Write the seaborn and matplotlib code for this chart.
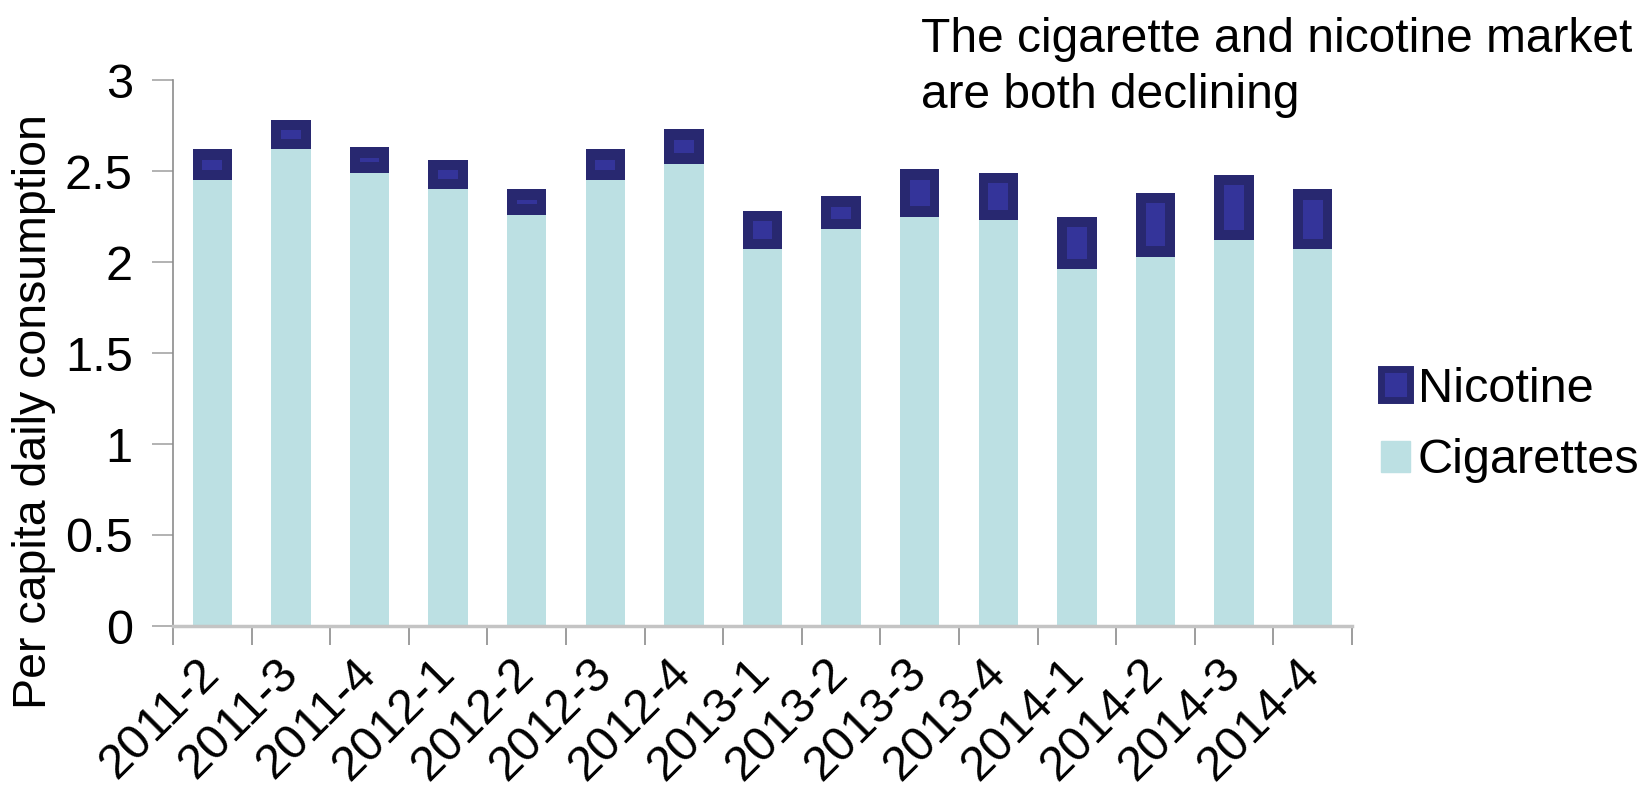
import pandas as pd
import matplotlib.pyplot as plt
import seaborn as sns
from matplotlib.patches import Patch

# Quarterly per capita daily consumption
quarters = ["2011-2", "2011-3", "2011-4", "2012-1", "2012-2", "2012-3", "2012-4",
            "2013-1", "2013-2", "2013-3", "2013-4", "2014-1", "2014-2", "2014-3", "2014-4"]
cigarettes = [2.45, 2.62, 2.49, 2.40, 2.26, 2.45, 2.54, 2.07, 2.18, 2.25, 2.23, 1.96, 2.03, 2.12, 2.07]
nicotine = [0.17, 0.16, 0.14, 0.16, 0.14, 0.17, 0.19, 0.21, 0.18, 0.26, 0.26, 0.29, 0.35, 0.36, 0.33]

data = pd.DataFrame({"Quarter": quarters, "Cigarettes": cigarettes, "Nicotine": nicotine})
data["Total"] = data["Cigarettes"] + data["Nicotine"]

# bevel look of the nicotine boxes: dark frame with a lighter core
inset = 0.057
data["CoreTop"] = data["Total"] - inset
data["CoreBottom"] = data["Cigarettes"] + inset

cig_color = "#bce0e3"
nic_dark = "#282870"
nic_core = "#34349a"

sns.set_style("white")
plt.rcParams["font.family"] = ["Liberation Sans", "DejaVu Sans"]
plt.rcParams["text.color"] = "black"
plt.rcParams["xtick.color"] = "black"
plt.rcParams["ytick.color"] = "black"

fig = plt.figure(figsize=(16.41, 7.91), dpi=100)
ax = fig.add_axes([173 / 1641, 1 - 626 / 791, (1352 - 173) / 1641, (626 - 80) / 791])

common = dict(x="Quarter", order=quarters, saturation=1, errorbar=None,
              linewidth=0, edgecolor="none", ax=ax)
sns.barplot(data=data, y="Total", color=nic_dark, width=0.5, **common)
sns.barplot(data=data, y="CoreTop", color=nic_core, width=0.25, **common)
sns.barplot(data=data, y="CoreBottom", color=nic_dark, width=0.5, **common)
sns.barplot(data=data, y="Cigarettes", color=cig_color, width=0.5, **common)

ax.set_ylim(0, 3)
ax.set_xlim(-0.5, len(quarters) - 0.5)
ax.set_yticks([0, 0.5, 1, 1.5, 2, 2.5, 3])
ax.set_yticklabels(["0", "0.5", "1", "1.5", "2", "2.5", "3"])
ax.set_xlabel("")
ax.set_ylabel("")

ax.set_xticks(range(len(quarters)))
ax.set_xticklabels(quarters, rotation=45, ha="right", va="center", rotation_mode="anchor")
ax.set_xticks([i - 0.5 for i in range(len(quarters) + 1)], minor=True)
ax.tick_params(axis="x", which="major", bottom=True, length=0, pad=29, labelsize=35)
ax.tick_params(axis="x", which="minor", bottom=True, length=14, width=1.2, color="#8c8c8c")
ax.tick_params(axis="y", left=True, length=15, width=1.2, color="#a6a6a6", pad=14,
               labelsize=35, labelcolor="black")

for side in ["top", "right"]:
    ax.spines[side].set_visible(False)
ax.spines["left"].set_color("#8c8c8c")
ax.spines["left"].set_linewidth(1.2)
ax.spines["bottom"].set_color("#c4c4c4")
ax.spines["bottom"].set_linewidth(2.5)

fig.text(34 / 1641, 1 - 412 / 791, "Per capita daily consumption",
         rotation=90, ha="center", va="center", fontsize=33.5)

fig.text(921 / 1641, 1 - 17 / 791, "The cigarette and nicotine market\nare both declining",
         ha="left", va="top", fontsize=34.5, linespacing=1.3)

handles = [Patch(facecolor=nic_core, edgecolor=nic_dark, linewidth=5, label="Nicotine"),
           Patch(facecolor=cig_color, edgecolor=cig_color, label="Cigarettes")]
fig.legend(handles=handles, loc="center left", bbox_to_anchor=(1357 / 1641, 1 - 425 / 791),
           frameon=False, fontsize=35, handlelength=0.6, handleheight=0.6,
           handletextpad=0.15, labelspacing=0.55, borderpad=0)

fig.savefig("out.png", dpi=100)
